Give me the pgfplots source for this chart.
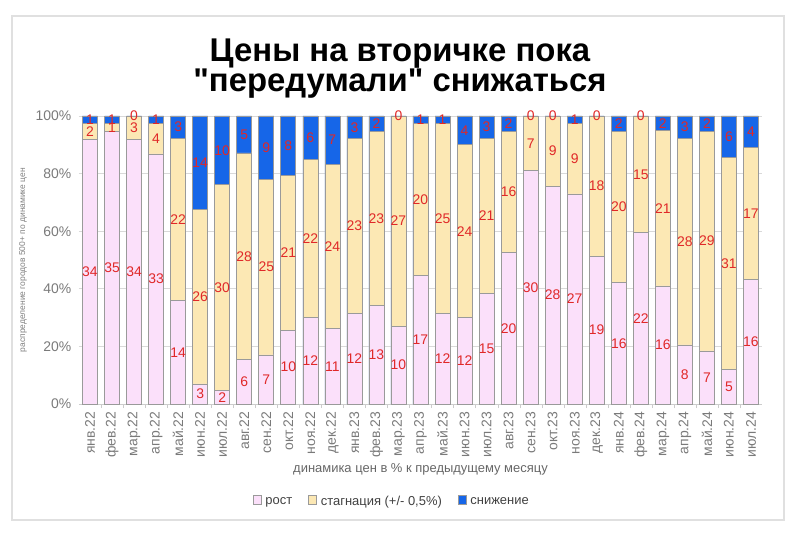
\documentclass[border=0pt]{standalone}
\usepackage{pgfplots}
\pgfplotsset{compat=1.18}
\usepackage{pgfplotstable}
\usepackage{fontspec}
\setmainfont{Liberation Sans}
\newfontfamily\titlefont{Liberation Sans}[Ligatures=TeXOff]
\definecolor{pinkc}{HTML}{FBE0FA}
\definecolor{yelc}{HTML}{FCE8B4}
\definecolor{bluec}{HTML}{1666E8}
\definecolor{redc}{HTML}{E02828}
\definecolor{edgec}{HTML}{9A9A9A}
\definecolor{tickc}{HTML}{7A7A7A}
\pgfplotstableread{
i r s d
0 34 2 1
1 35 1 1
2 34 3 0
3 33 4 1
4 14 22 3
5 3 26 14
6 2 30 10
7 6 28 5
8 7 25 9
9 10 21 8
10 12 22 6
11 11 24 7
12 12 23 3
13 13 23 2
14 10 27 0
15 17 20 1
16 12 25 1
17 12 24 4
18 15 21 3
19 20 16 2
20 30 7 0
21 28 9 0
22 27 9 1
23 19 18 0
24 16 20 2
25 22 15 0
26 16 21 2
27 8 28 3
28 7 29 2
29 5 31 6
30 16 17 4
}\data
\begin{document}
\begin{tikzpicture}
\path (-90bp,-137bp) rectangle (710bp,404bp);
\draw[black!12, line width=1.5bp] (-78bp,-116bp) rectangle (694bp,388bp);
\node[anchor=base, font=\titlefont\bfseries\fontsize{33}{33}\selectfont] at (310bp,342bp) {Цены на вторичке пока};
\node[anchor=base, font=\titlefont\bfseries\fontsize{33}{33}\selectfont] at (310bp,312bp) {"передумали" снижаться};
\begin{axis}[
  at={(0bp,0bp)}, anchor=origin,
  scale only axis, width=683bp, height=288bp,
  xmin=-0.5, xmax=30.5, ymin=0, ymax=100,
  clip=false,
  /pgf/number format/assume math mode=true,
  axis x line*=bottom, axis y line*=left,
  x axis line style={black!20},
  y axis line style={draw=none},
  ytick={0,20,40,60,80,100},
  yticklabels={0\%,20\%,40\%,60\%,80\%,100\%},
  yticklabel style={font=\fontsize{14}{14}\selectfont, text=tickc},
  ytick style={draw=none},
  ymajorgrids, grid style={black!15, line width=0.8bp},
  xtick={0,...,30},
  xticklabels={янв.22,фев.22,мар.22,апр.22,май.22,июн.22,июл.22,авг.22,сен.22,окт.22,ноя.22,дек.22,янв.23,фев.23,мар.23,апр.23,май.23,июн.23,июл.23,авг.23,сен.23,окт.23,ноя.23,дек.23,янв.24,фев.24,мар.24,апр.24,май.24,июн.24,июл.24},
  xticklabel style={rotate=90, anchor=east, font=\fontsize{14}{14}\selectfont, text=tickc},
  major x tick style={draw=none},
  minor x tick num=1,
  minor x tick style={black!20},
  tick align=outside, minor tick length=4bp,
  xlabel={динамика цен в \% к предыдущему месяцу},
  every axis x label/.style={at={(axis description cs:0.5,0)}, yshift=-65bp, anchor=center, font=\fontsize{13}{13}\selectfont, text=black!60},
  ylabel={распределение городов 500+ по динамике цен},
  every axis y label/.style={at={(axis description cs:0,0.5)}, xshift=-56bp, rotate=90, anchor=center, font=\fontsize{8.5}{8.5}\selectfont, text=black!50},
  legend style={at={(axis description cs:0.458,-0.340)}, anchor=center, draw=none, fill=none, font=\fontsize{13}{13}\selectfont, text=black!75, legend columns=3, /tikz/every odd column/.append style={column sep=2bp}, /tikz/every even column/.append style={column sep=14bp}},
  legend image code/.code={\draw[#1, line width=0.6bp] (0bp,-2.5bp) rectangle (8bp,7bp);},
  every node near coord/.append style={anchor=center, text=redc, font=\fontsize{14}{14}\selectfont},
]
\addplot[ybar, bar width=15bp, bar shift=0pt, fill=bluec, draw=edgec, line width=0.6bp, forget plot]
  table[x=i, y expr={100}]{\data};
\addplot[ybar, bar width=15bp, bar shift=0pt, fill=yelc, draw=edgec, line width=0.6bp, forget plot]
  table[x=i, y expr={100*(\thisrow{r}+\thisrow{s})/(\thisrow{r}+\thisrow{s}+\thisrow{d})}]{\data};
\addplot[ybar, bar width=15bp, bar shift=0pt, fill=pinkc, draw=edgec, line width=0.6bp, forget plot]
  table[x=i, y expr={100*\thisrow{r}/(\thisrow{r}+\thisrow{s}+\thisrow{d})}]{\data};
\addplot[draw=none, mark=none, nodes near coords, point meta=explicit, forget plot]
  table[x=i, y expr={50*\thisrow{r}/(\thisrow{r}+\thisrow{s}+\thisrow{d})}, meta=r]{\data};
\addplot[draw=none, mark=none, nodes near coords, point meta=explicit, forget plot]
  table[x=i, y expr={50*(2*\thisrow{r}+\thisrow{s})/(\thisrow{r}+\thisrow{s}+\thisrow{d})}, meta=s]{\data};
\addplot[draw=none, mark=none, nodes near coords, point meta=explicit, forget plot]
  table[x=i, y expr={50*(2*\thisrow{r}+2*\thisrow{s}+\thisrow{d})/(\thisrow{r}+\thisrow{s}+\thisrow{d})}, meta=d]{\data};
\addlegendimage{fill=pinkc, draw=edgec}
\addlegendentry{рост}
\addlegendimage{fill=yelc, draw=edgec}
\addlegendentry{стагнация (+/- 0,5\%)}
\addlegendimage{fill=bluec, draw=edgec}
\addlegendentry{снижение}
\end{axis}
\end{tikzpicture}
\end{document}
